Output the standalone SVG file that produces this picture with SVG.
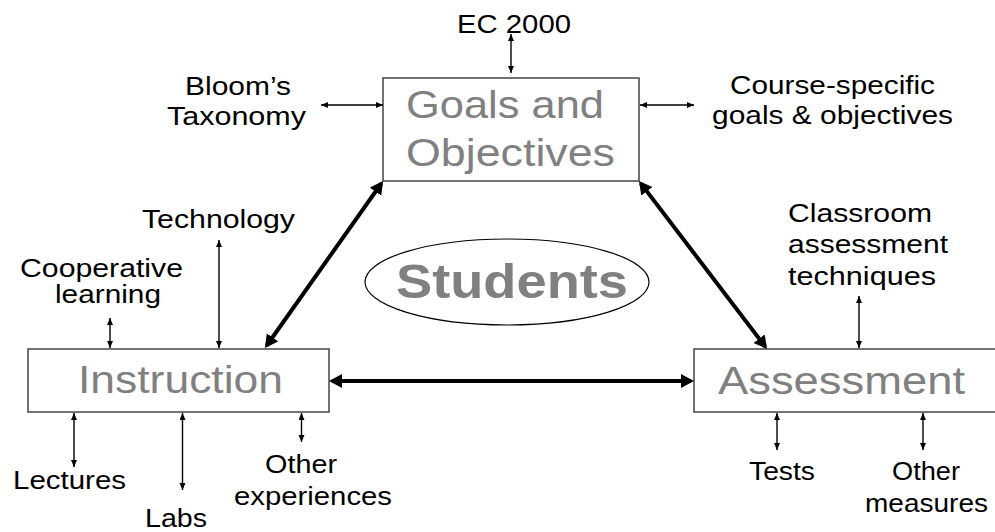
<svg xmlns="http://www.w3.org/2000/svg" width="995" height="532" viewBox="0 0 995 532">
<style>
.box{fill:#fff;stroke:#444;stroke-width:1.5}
.big{font-family:"Liberation Sans",Arial,sans-serif;font-size:39px;fill:#808080;text-anchor:start}
.lbl{font-family:"Liberation Sans",Arial,sans-serif;font-size:25px;fill:#000}
.stu{font-family:"Liberation Sans",Arial,sans-serif;font-size:49px;font-weight:bold;fill:#808080}
.thin{stroke:#000;stroke-width:1.4;fill:none;marker-start:url(#ht);marker-end:url(#ht)}
.thick{stroke:#000;stroke-width:4;fill:none;marker-start:url(#hk);marker-end:url(#hk)}
</style>
<defs>
<marker id="ht" markerUnits="userSpaceOnUse" markerWidth="8" markerHeight="7" refX="7" refY="3" orient="auto-start-reverse"><path d="M0,0 L7,3 L0,6 z" fill="#000"/></marker>
<marker id="hk" markerUnits="userSpaceOnUse" markerWidth="14" markerHeight="15" refX="10" refY="7" orient="auto-start-reverse"><path d="M0,0 L13,7 L0,14 z" fill="#000"/></marker>
</defs>
<rect width="995" height="532" fill="#fff"/>
<g id="goals"><rect class="box" x="383" y="78" width="256" height="103"/>
<text class="big" x="406" y="118" textLength="198" lengthAdjust="spacingAndGlyphs">Goals and</text>
<text class="big" x="406" y="166" textLength="209" lengthAdjust="spacingAndGlyphs">Objectives</text></g>
<g id="instruction"><rect class="box" x="28" y="349" width="301" height="63"/>
<text class="big" x="78" y="393" textLength="205" lengthAdjust="spacingAndGlyphs">Instruction</text></g>
<g id="assessment"><rect class="box" x="694" y="349" width="310" height="63"/>
<text class="big" x="718" y="394" textLength="247" lengthAdjust="spacingAndGlyphs">Assessment</text></g>
<g id="students"><ellipse cx="507" cy="282" rx="142" ry="43" fill="none" stroke="#000" stroke-width="1.2"/>
<text class="stu" x="396" y="298" textLength="232" lengthAdjust="spacingAndGlyphs">Students</text></g>
<g id="ec2000"><text class="lbl" x="457" y="33" textLength="114" lengthAdjust="spacingAndGlyphs">EC 2000</text></g>
<g id="bloom"><text class="lbl" x="185" y="95" textLength="106" lengthAdjust="spacingAndGlyphs">Bloom’s</text>
<text class="lbl" x="167" y="125" textLength="139" lengthAdjust="spacingAndGlyphs">Taxonomy</text></g>
<g id="course"><text class="lbl" x="730" y="94" textLength="205" lengthAdjust="spacingAndGlyphs">Course-specific</text>
<text class="lbl" x="712" y="124" textLength="241" lengthAdjust="spacingAndGlyphs">goals &amp; objectives</text></g>
<g id="technology"><text class="lbl" x="142" y="228" textLength="153" lengthAdjust="spacingAndGlyphs">Technology</text></g>
<g id="cooperative"><text class="lbl" x="20" y="277" textLength="163" lengthAdjust="spacingAndGlyphs">Cooperative</text>
<text class="lbl" x="55" y="303" textLength="106" lengthAdjust="spacingAndGlyphs">learning</text></g>
<g id="lectures"><text class="lbl" x="13" y="489" textLength="113" lengthAdjust="spacingAndGlyphs">Lectures</text></g>
<g id="labs"><text class="lbl" x="145" y="527" textLength="62" lengthAdjust="spacingAndGlyphs">Labs</text></g>
<g id="other-exp"><text class="lbl" x="265" y="473" textLength="72" lengthAdjust="spacingAndGlyphs">Other</text>
<text class="lbl" x="234" y="505" textLength="158" lengthAdjust="spacingAndGlyphs">experiences</text></g>
<g id="classroom"><text class="lbl" x="788" y="222" textLength="144" lengthAdjust="spacingAndGlyphs">Classroom</text>
<text class="lbl" x="788" y="253" textLength="160" lengthAdjust="spacingAndGlyphs">assessment</text>
<text class="lbl" x="788" y="285" textLength="148" lengthAdjust="spacingAndGlyphs">techniques</text></g>
<g id="tests"><text class="lbl" x="749" y="480" textLength="66" lengthAdjust="spacingAndGlyphs">Tests</text></g>
<g id="other-measures"><text class="lbl" x="892" y="480" textLength="68" lengthAdjust="spacingAndGlyphs">Other</text>
<text class="lbl" x="865" y="512" textLength="123" lengthAdjust="spacingAndGlyphs">measures</text></g>
<g id="connectors">
<line class="thick" x1="332" y1="381" x2="691" y2="381"/>
<line class="thick" x1="266.7" y1="345.5" x2="381.3" y2="183.5"/>
<line class="thick" x1="640.8" y1="183.4" x2="765.2" y2="346.6"/>
<line class="thin" x1="511" y1="34" x2="511" y2="73"/>
<line class="thin" x1="321" y1="105" x2="383" y2="105"/>
<line class="thin" x1="640" y1="105" x2="694" y2="105"/>
<line class="thin" x1="219" y1="240" x2="219" y2="348"/>
<line class="thin" x1="110" y1="318" x2="110" y2="348"/>
<line class="thin" x1="74" y1="413" x2="74" y2="467"/>
<line class="thin" x1="182.5" y1="413" x2="182.5" y2="490"/>
<line class="thin" x1="301.5" y1="413" x2="301.5" y2="442"/>
<line class="thin" x1="859" y1="296" x2="859" y2="348"/>
<line class="thin" x1="777" y1="413" x2="777" y2="450"/>
<line class="thin" x1="923" y1="413" x2="923" y2="450"/>
</g>
</svg>
